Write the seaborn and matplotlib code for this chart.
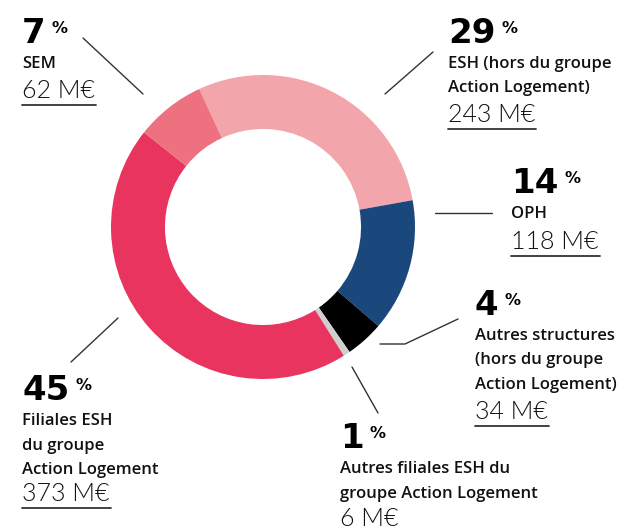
import numpy as np
import pandas as pd
import matplotlib
matplotlib.use("Agg")
import matplotlib.pyplot as plt
import seaborn as sns

# data
categories = ["ESH (hors du groupe\nAction Logement)", "OPH",
              "Autres structures\n(hors du groupe\nAction Logement)",
              "Autres filiales ESH du\ngroupe Action Logement",
              "Filiales ESH\ndu groupe\nAction Logement", "SEM"]
amounts = [243, 118, 34, 6, 373, 62]          # M€
percents = [29, 14, 4, 1, 45, 7]
colors = ["#F2A5AA", "#1B487C", "#000000", "#CFCFCF", "#E8345E", "#EE7180"]

df = pd.DataFrame({"cat": categories, "amount": amounts, "pct": percents})

# label layout (pixels, baseline of the big number, x left)
label_pos = [(448, 43), (511, 193), (475, 315), (340, 448), (22, 400), (22, 43)]
value_gap = [29, 31, 30, 28, 27, 30]
leaders = [
    [(433, 52), (385, 94)],
    [(435, 213), (492, 213)],
    [(380, 344), (405, 344), (458, 319)],
    [(352, 367), (378, 413)],
    [(118, 318), (71, 362)],
    [(83, 38), (143, 94)],
]

sns.set_theme(style="white")
W, H = 629, 531
fig = plt.figure(figsize=(W / 100, H / 100), dpi=100)

# donut
cx, cy, r = 263, 227, 152
ax = fig.add_axes([(cx - r) / W, (H - cy - r) / H, 2 * r / W, 2 * r / H])
ax.pie(df["amount"], colors=colors, startangle=114.8, counterclock=False,
       radius=1, wedgeprops=dict(width=0.355, linewidth=0))
ax.set_xlim(-1, 1)
ax.set_ylim(-1, 1)
ax.set_aspect("equal")
ax.axis("off")

# overlay in pixel coords
ov = fig.add_axes([0, 0, 1, 1], facecolor="none")
ov.set_xlim(0, W)
ov.set_ylim(H, 0)
ov.axis("off")

big_font = dict(family="DejaVu Sans", weight="heavy", size=24.5)
lab_font = dict(family=["Open Sans", "Lato"], weight=600, size=12)
val_font = dict(family="Lato", weight=300, size=18)

fig.canvas.draw()
rend = fig.canvas.get_renderer()
for (x, y), row, pts, gap in zip(label_pos, df.itertuples(), leaders, value_gap):
    num = ov.text(x, y, str(row.pct), va="baseline", ha="left", color="black", **big_font)
    bb = num.get_window_extent(renderer=rend)
    ov.text(x + bb.width + 6, y - 10, "%", va="baseline", ha="left",
            fontsize=11.5, weight="bold", family="DejaVu Sans", color="black")
    yy = y + 25
    for i, ln in enumerate(row.cat.split("\n")):
        if i > 0:
            yy += 24.5
        ov.text(x, yy, ln, va="baseline", ha="left", color="#111111", **lab_font)
    yy += gap
    vt = ov.text(x, yy, f"{row.amount} M€", va="baseline", ha="left", color="#111111", **val_font)
    vb = vt.get_window_extent(renderer=rend)
    ov.plot([x, x + vb.width + 1], [yy + 7, yy + 7], color="#333333", lw=1.3)
    px, py = zip(*pts)
    ov.plot(px, py, color="#333333", lw=1)

fig.savefig("out.png", dpi=100)
